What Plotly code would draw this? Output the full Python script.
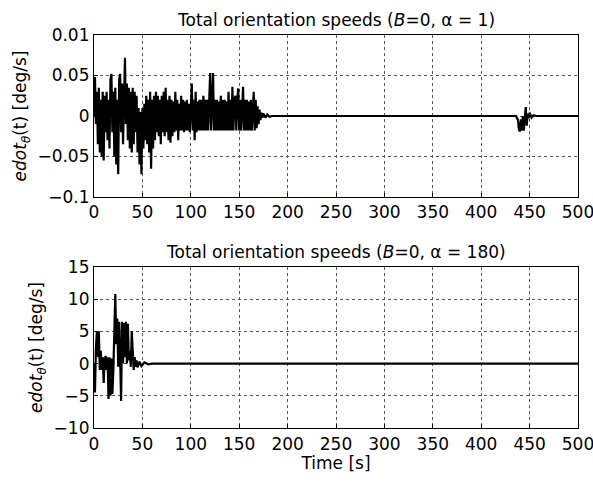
import plotly.graph_objects as go

# ---- Top panel data (alpha = 1) ----
t_top = [0, 1, 2, 3, 4, 5, 6, 7, 8, 9, 10, 11, 12, 13, 14, 15, 16, 17, 18, 19,
         20, 21, 22, 23, 24, 25, 26, 27, 28, 29, 30, 31, 32, 33, 34, 35, 36, 37, 38, 39,
         40, 41, 42, 43, 44, 45, 46, 47, 48, 49, 50, 51, 52, 53, 54, 55, 56, 57, 58, 59,
         60, 61, 62, 63, 64, 65, 66, 67, 68, 69, 70, 71, 72, 73, 74, 75, 76, 77, 78, 79,
         80, 81, 82, 83, 84, 85, 86, 87, 88, 89, 90, 91, 92, 93, 94, 95, 96, 97, 98, 99,
         100, 101, 102, 103, 104, 105, 106, 107, 108, 109, 110, 111, 112, 113, 114, 115, 116, 117, 118, 119,
         120, 121, 122, 123, 124, 125, 126, 127, 128, 129, 130, 131, 132, 133, 134, 135, 136, 137, 138, 139,
         140, 141, 142, 143, 144, 145, 146, 147, 148, 149, 150, 151, 152, 153, 154, 155, 156, 157, 158, 159,
         160, 161, 162, 163, 164, 165, 166, 167, 168, 169, 170, 171, 172, 173, 174, 175, 177, 179, 181, 184,
         188, 200, 436, 438, 439, 440, 441, 442, 443, 444, 445, 446, 447, 448, 449, 450, 452, 454, 457, 460, 500]
v_top = [0.0, 0.048, -0.01, 0.03, -0.035, 0.035, -0.045, 0.02, -0.05, 0.03, -0.055, 0.025, -0.02, 0.03, -0.03, 0.02, -0.04, 0.045, 0.052, -0.02,
         0.03, -0.05, 0.035, -0.06, 0.02, -0.072, 0.045, 0.052, -0.02, 0.04, -0.035, 0.05, 0.072, -0.01, 0.04, -0.03, 0.035, -0.04, 0.03, -0.045,
         0.035, -0.035, 0.03, -0.02, 0.025, -0.045, 0.01, -0.06, 0.005, -0.072, 0.01, -0.04, 0.015, -0.03, 0.025, -0.035, 0.02, -0.045, 0.03, -0.065,
         0.02, -0.04, 0.025, -0.03, 0.03, -0.02, 0.025, -0.025, 0.02, -0.035, 0.025, -0.02, 0.03, -0.025, 0.035, -0.02, 0.02, -0.03, 0.025, -0.033,
         0.02, -0.025, 0.018, -0.02, 0.03, -0.018, 0.02, -0.03, 0.015, -0.018, 0.025, -0.018, 0.02, -0.02, 0.018, -0.018, 0.02, -0.018, 0.015, -0.02,
         0.02, 0.04, -0.018, 0.02, -0.03, 0.03, -0.02, 0.018, -0.018, 0.02, -0.018, 0.02, -0.018, 0.025, -0.018, 0.02, -0.018, 0.02, -0.018, 0.015,
         0.053, -0.018, 0.02, 0.053, -0.018, 0.02, -0.018, 0.02, -0.018, 0.018, -0.018, 0.025, -0.018, 0.02, -0.018, 0.02, -0.018, 0.018, -0.018, 0.03,
         -0.018, 0.02, -0.018, 0.036, -0.018, 0.02, 0.025, -0.018, 0.02, 0.034, -0.018, 0.02, -0.018, 0.02, 0.036, -0.018, 0.02, -0.018, 0.02, -0.018,
         0.018, -0.018, 0.02, -0.018, 0.02, 0.03, -0.018, 0.02, -0.015, 0.012, -0.01, 0.008, -0.005, 0.004, -0.002, 0.003, -0.002, 0.002, -0.001, 0.0,
         0.0, 0.0, 0.0, -0.005, -0.017, -0.019, -0.004, -0.018, 0.0, -0.018, 0.004, 0.011, -0.012, 0.003, -0.003, 0.004, -0.002, 0.001, 0.0, 0.0, 0.0]

# ---- Bottom panel data (alpha = 180) ----
t_bot = [0, 1, 2, 3, 4, 5, 6, 7, 8, 9, 10, 11, 12, 13, 14, 15, 16, 17, 18, 19,
         20, 21, 22, 23, 24, 25, 26, 27, 28, 29, 30, 31, 32, 33, 34, 35, 36, 37, 38, 39,
         40, 41, 42, 43, 44, 45, 47, 49, 52, 56, 60, 500]
v_bot = [0.0, -4.5, 2.5, 5.0, 1.0, 5.0, -1.0, 2.0, -1.0, 1.0, -3.0, 0.5, 1.2, -1.0, 1.0, -5.5, 1.0, -5.0, 0.8, -4.7,
         -1.0, 4.0, 10.8, 3.0, 7.0, -0.5, 6.5, 1.0, -5.8, 6.5, 0.0, 6.3, 1.0, 6.5, 0.0, 6.2, 0.5, 2.0, -0.5, 5.0,
         0.5, -1.0, 1.0, -0.5, 0.5, -0.6, 0.3, -0.4, 0.2, -0.1, 0.0, 0.0]

x_ticks = [0, 50, 100, 150, 200, 250, 300, 350, 400, 450, 500]
y_top_ticks = [-0.1, -0.05, 0, 0.05, 0.1]
y_top_text = ["\u22120.1", "\u22120.05", "0", "0.05", "0.01"]
y_bot_ticks = [-10, -5, 0, 5, 10, 15]
y_bot_text = ["\u221210", "\u22125", "0", "5", "10", "15"]

title_top = "Total orientation speeds (<i>B</i>=0, \u03b1 = 1)"
title_bot = "Total orientation speeds (<i>B</i>=0, \u03b1 = 180)"
ylab = "<i>edot</i><sub><i>\u03b8</i></sub>(t) [deg/s]"
xlab = "Time [s]"

FONT = "DejaVu Sans, Liberation Sans, sans-serif"
FS = 17

fig = go.Figure()
fig.add_trace(go.Scatter(x=t_top, y=v_top, mode="lines",
                         line=dict(color="black", width=2.2), xaxis="x", yaxis="y"))
fig.add_trace(go.Scatter(x=t_bot, y=v_bot, mode="lines",
                         line=dict(color="black", width=2.2), xaxis="x2", yaxis="y2"))

axis_common = dict(showline=True, linecolor="black", linewidth=1.2, mirror=True,
                   showgrid=True, gridcolor="#555", griddash="dot", gridwidth=1,
                   ticks="inside", ticklen=4, tickcolor="black", zeroline=False,
                   automargin=False, ticklabeloverflow="allow",
                   tickfont=dict(family=FONT, size=FS, color="black"))

fig.update_layout(
    width=593, height=482,
    margin=dict(l=94, r=15, t=35, b=54),
    paper_bgcolor="white", plot_bgcolor="white",
    showlegend=False,
    font=dict(family=FONT, color="black"),
    xaxis=dict(axis_common, domain=[0, 1], range=[0, 500], tickvals=x_ticks, anchor="y"),
    yaxis=dict(axis_common, domain=[0.5878, 1.0], range=[-0.1, 0.1],
               tickvals=y_top_ticks, ticktext=y_top_text, anchor="x",
               title=dict(text=ylab, font=dict(family=FONT, size=FS), standoff=6)),
    xaxis2=dict(axis_common, domain=[0, 1], range=[0, 500], tickvals=x_ticks, anchor="y2",
                title=dict(text=xlab, font=dict(family=FONT, size=FS), standoff=4)),
    yaxis2=dict(axis_common, domain=[0.0, 0.4097], range=[-10, 15],
                tickvals=y_bot_ticks, ticktext=y_bot_text, anchor="x2",
                title=dict(text=ylab, font=dict(family=FONT, size=FS), standoff=6)),
    annotations=[
        dict(text=title_top, xref="paper", yref="paper", x=0.5, y=1.0, yshift=3,
             xanchor="center", yanchor="bottom", showarrow=False,
             font=dict(family=FONT, size=FS, color="black")),
        dict(text=title_bot, xref="paper", yref="paper", x=0.5, y=0.4097, yshift=3,
             xanchor="center", yanchor="bottom", showarrow=False,
             font=dict(family=FONT, size=FS, color="black")),
    ],
)

fig.write_html("out.html")
